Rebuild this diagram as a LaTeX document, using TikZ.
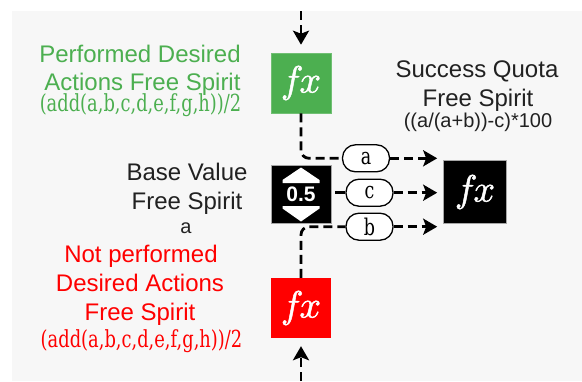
\documentclass[tikz,border=0pt]{standalone}
\usepackage{fontspec}
\setsansfont{Liberation Sans}
\newfontfamily\slab[FakeStretch=0.76]{DejaVu Serif}
\newfontfamily\fxfont[FakeBold=1.2]{Latin Modern Math}
\usetikzlibrary{arrows.meta}
\definecolor{bggray}{HTML}{F7F7F7}
\definecolor{fxgreen}{HTML}{4CAF50}
\definecolor{fxred}{HTML}{FF0000}
\definecolor{ink}{HTML}{212121}
\newcommand{\fxsym}{^^^^^^01d453^^^^^^01d465}
\begin{document}
\begin{tikzpicture}[x=1pt,y=-1pt,
  fxbox/.style={minimum width=60pt,minimum height=60pt,inner sep=0pt,text=white,font=\fxfont\fontsize{38}{38}\selectfont},
  pill/.style={draw=black,line width=1.3pt,fill=white,rounded corners=13pt,minimum width=47pt,minimum height=27pt,inner sep=0pt,font=\slab\fontsize{23}{23}\selectfont},
  conn/.style={line width=2.8pt,dash pattern=on 9pt off 5pt},
  tip/.style={-{Stealth[length=14pt,width=16pt,inset=3pt]}},
  lbl/.style={anchor=base,inner sep=0pt,font=\sffamily\fontsize{24}{28}\selectfont},
  frm/.style={anchor=base,inner sep=0pt,font=\slab\fontsize{23.5}{23.5}\selectfont},
  sml/.style={anchor=base,inner sep=0pt,font=\sffamily\fontsize{20}{20}\selectfont},
]
\useasboundingbox (0,0) rectangle (582,381);
\fill[bggray] (12,11) rectangle (582,381);

% function boxes
\node[fxbox,fill=fxgreen,draw=fxgreen!80!white,line width=0.6pt] (g) at (301,83) {\fxsym};
\node[fxbox,fill=fxred] (r) at (301,308) {\fxsym};
\node[fxbox,fill=black,draw=gray!70,line width=0.6pt,minimum width=63pt,minimum height=63pt] (q) at (475,192) {\fxsym};
\node[fill=black,draw=gray!70,line width=0.6pt,minimum width=60pt,minimum height=58pt,inner sep=0pt,text=white,font=\sffamily\bfseries\fontsize{21}{21}\selectfont] (v) at (301,194) {0.5};
\fill[white] (v.center) ++(0,-26.5) -- ++(18.5,12.5) -- ++(0,3) -- ++(-37,0) -- ++(0,-3) -- cycle;
\fill[white] (v.center) ++(-18.5,12) -- ++(37,0) -- ++(0,2.5) -- ++(-18.5,13) -- ++(-18.5,-13) -- cycle;

% pills
\node[pill] (pa) at (366,158.3) {a};
\node[pill] (pc) at (369.5,192.7) {c};
\node[pill] (pb) at (369.5,226.7) {b};

% connectors
\coordinate (top) at (301,11);
\coordinate (bot) at (301,381);
\draw[conn,tip,shorten >=8pt] (top) -- (g.north);
\draw[conn,tip,shorten >=8pt] (bot) -- (r.south);
\draw[conn,rounded corners=8pt] (g.south) |- (pa.west);
\draw[conn,rounded corners=8pt] (r.north) |- (pb.west);
\draw[line width=2.8pt,shorten <=4pt] (pc.west -| v.east) -- (pc.west);
\draw[conn,tip,shorten >=6pt] (pa.east) -- (pa.east -| q.west);
\draw[conn,tip,shorten >=6pt] (pc.east) -- (pc.east -| q.west);
\draw[conn,tip,shorten >=6pt] (pb.east) -- (pb.east -| q.west);

% labels
\node[lbl,text=fxgreen] (g1) at (140,62) {Performed Desired};
\node[lbl,text=fxgreen] (g2) at (142.5,90) {Actions Free Spirit};
\node[frm,text=fxgreen] (g3) at (140.5,111) {(add(a,b,c,d,e,f,g,h))/2};

\node[lbl,text=ink] (s1) at (477,77) {Success Quota};
\node[lbl,text=ink] (s2) at (478,106) {Free Spirit};
\node[sml,text=ink] (s3) at (478,127) {((a/(a+b))-c)*100};

\node[lbl,text=ink] (b1) at (187,180) {Base Value};
\node[lbl,text=ink] (b2) at (187,209) {Free Spirit};
\node[sml,text=ink] (b3) at (186,233) {a};

\node[lbl,text=fxred] (r1) at (141,262) {Not performed};
\node[lbl,text=fxred] (r2) at (140,291) {Desired Actions};
\node[lbl,text=fxred] (r3) at (140,320) {Free Spirit};
\node[frm,text=fxred] (r4) at (141.5,347) {(add(a,b,c,d,e,f,g,h))/2};
\end{tikzpicture}
\end{document}
